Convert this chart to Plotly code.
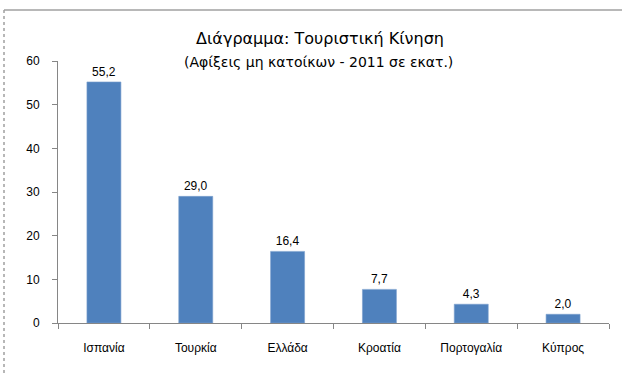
import plotly.graph_objects as go

countries = ["Ισπανία", "Τουρκία", "Ελλάδα", "Κροατία", "Πορτογαλία", "Κύπρος"]
arrivals = [55.2, 29.0, 16.4, 7.7, 4.3, 2.0]
y_ticks = [0, 10, 20, 30, 40, 50, 60]
title_line1 = "Διάγραμμα: Τουριστική Κίνηση"
title_line2 = "(Αφίξεις μη κατοίκων - 2011 σε εκατ.)"

W, H = 622, 376
L, R, T, B = 58, 13, 61, 53
pw, ph = W - L - R, H - T - B

def px(x):
    return (x - L) / pw

def py(y):
    return (H - B - y) / ph

FONT = "Liberation Sans"
TFONT = "DejaVu Sans"

fig = go.Figure(go.Bar(
    x=countries, y=arrivals,
    marker=dict(color="#4F81BD", line=dict(color="#7BA0CD", width=0.6)),
    text=[f"{v:.1f}".replace(".", ",") for v in arrivals],
    textposition="outside", cliponaxis=False,
    textfont=dict(family=FONT, size=12, color="#000000"),
))

fig.update_layout(
    width=W, height=H,
    margin=dict(l=L, r=R, t=T, b=B),
    paper_bgcolor="white", plot_bgcolor="white",
    bargap=0.63,
    showlegend=False,
    separators=",.",
    annotations=[
        dict(text=title_line1, xref="paper", yref="paper", x=px(320), y=py(38),
             xanchor="center", yanchor="middle", showarrow=False,
             font=dict(family=TFONT, size=16, color="#000000")),
        dict(text=title_line2, xref="paper", yref="paper", x=px(318), y=py(62),
             xanchor="center", yanchor="middle", showarrow=False,
             font=dict(family=TFONT, size=14, color="#000000")),
    ],
    xaxis=dict(showline=True, linecolor="#868686", linewidth=1,
               ticks="outside", ticklen=5, tickcolor="#868686", tickson="boundaries",
               ticklabelstandoff=14,
               tickfont=dict(family=FONT, size=12, color="#000000"),
               showgrid=False),
    yaxis=dict(range=[0, 60], tickvals=y_ticks, showline=True, linecolor="#868686", linewidth=1,
               ticks="outside", ticklen=5, tickcolor="#868686",
               ticklabelstandoff=10,
               tickfont=dict(family=FONT, size=12, color="#000000"),
               showgrid=False, zeroline=False),
    shapes=[
        dict(type="line", xref="paper", yref="paper", x0=px(4), x1=px(622), y0=py(10), y1=py(10),
             line=dict(color="#A0A0A0", width=1.5)),
        dict(type="line", xref="paper", yref="paper", x0=px(4), x1=px(4), y0=py(10), y1=py(376),
             line=dict(color="#A0A0A0", width=1.5, dash="dot")),
    ],
)

fig.write_html("out.html")
